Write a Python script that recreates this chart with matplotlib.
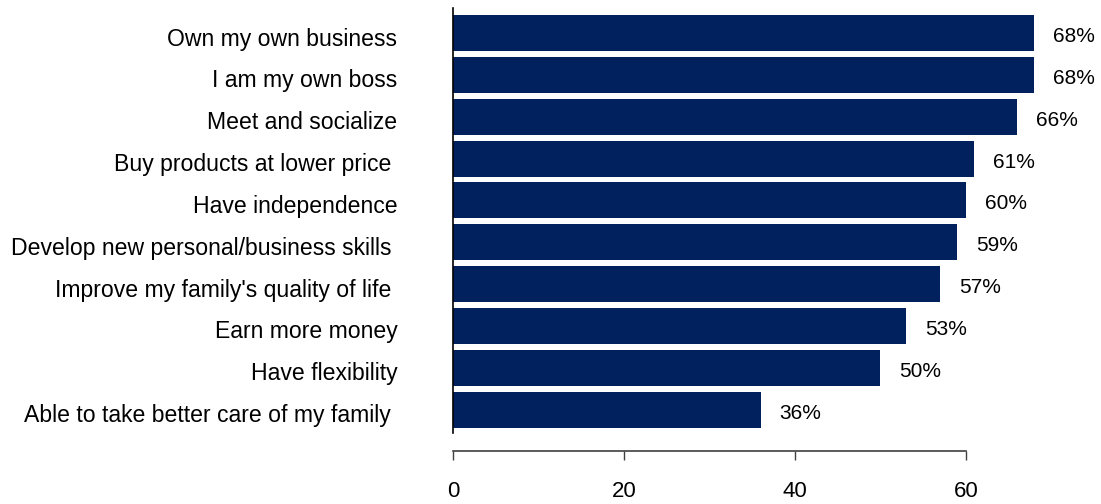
import matplotlib.pyplot as plt
import matplotlib.transforms as mtransforms

plt.rcParams['font.family'] = ['Liberation Sans', 'DejaVu Sans']

# Reasons for joining, top to bottom
reasons = [
    "Own my own business",
    "I am my own boss",
    "Meet and socialize",
    "Buy products at lower price ",
    "Have independence",
    "Develop new personal/business skills ",
    "Improve my family's quality of life ",
    "Earn more money",
    "Have flexibility",
    "Able to take better care of my family ",
]
percent = [68, 68, 66, 61, 60, 59, 57, 53, 50, 36]
xticks = [0, 20, 40, 60]

fig = plt.figure(figsize=(11.01, 5.04), dpi=100)
ax = fig.add_axes([453 / 1101, 71 / 504, 641 / 1101, 425 / 504])

# spine placement first: moving a spine rebuilds the ticks
for side in ["top", "right"]:
    ax.spines[side].set_visible(False)
ax.spines["bottom"].set_position(("outward", 13))
ax.spines["bottom"].set_bounds(0, 60)
ax.spines["bottom"].set_color("#404040")
ax.spines["bottom"].set_linewidth(1.2)
ax.spines["left"].set_color("black")
ax.spines["left"].set_linewidth(1.2)

# text sits a little below the bar centres
nudge = mtransforms.ScaledTranslation(0, -3.5 / 100, fig.dpi_scale_trans)

pos = list(range(len(reasons)))
ax.barh(pos, percent, height=0.86, color="#00215E", edgecolor="none")

for y, v in zip(pos, percent):
    ax.text(v + 2.2, y, f"{v}%", va="center", ha="left", fontsize=15,
            color="black", transform=ax.transData + nudge)

ax.set_yticks(pos)
ax.set_yticklabels(reasons, fontsize=16.6)
ax.tick_params(axis="y", length=0, pad=40)
for lab in ax.get_yticklabels():
    lab.set_transform(lab.get_transform() + nudge)

ax.set_xlim(0, 75)
ax.set_ylim(9.56, -0.6)
ax.set_xticks(xticks)
ax.set_xticklabels([str(t) for t in xticks], fontsize=16)
ax.tick_params(axis="x", length=6.5, width=1, color="#404040", pad=15)

plt.savefig("out.png", dpi=100)
